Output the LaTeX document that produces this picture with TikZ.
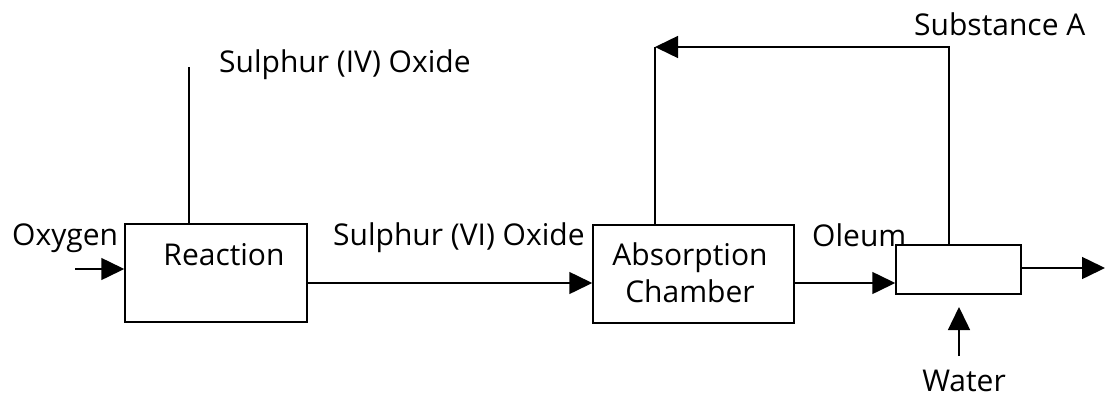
\documentclass[tikz,border=0pt]{standalone}
\usepackage{fontspec}
\setmainfont{Open Sans}
\usetikzlibrary{arrows.meta,positioning}

\tikzset{
  unitbox/.style={draw, line width=1.5pt, inner sep=0pt},
  flow/.style={line width=1.5pt, -{Triangle[length=23pt, width=22pt]}},
  pipe/.style={line width=1.5pt},
  lbl/.style={font=\fontsize{30}{37}\selectfont, inner sep=0pt}
}

\begin{document}
\begin{tikzpicture}[x=1pt, y=-1pt]
  \useasboundingbox (0,0) rectangle (1105,394);

  % process units
  \node[unitbox, minimum width=182pt, minimum height=98pt] (reactor) at (216,273) {};
  \node[unitbox, minimum width=201pt, minimum height=98pt] (absorber) at (693.5,274) {};
  \node[unitbox, minimum width=125pt, minimum height=49pt] (diluter) at (958.5,269.5) {};

  % labels
  \node[lbl, anchor=base] (treaction) at (224,265) {Reaction};
  \node[lbl, anchor=base] (tabsorb) at (690,265) {Absorption};
  \node[lbl, anchor=base] (tchamber) at (690,302) {Chamber};
  \node[lbl, anchor=base west] (toxygen) at (12,245) {Oxygen};
  \node[lbl, anchor=base west] (tsoii) at (219,72) {Sulphur (IV) Oxide};
  \node[lbl, anchor=base west] (tsoiii) at (333,245) {Sulphur (VI) Oxide};
  \node[lbl, anchor=base west] (toleum) at (812,246) {Oleum};
  \node[lbl, anchor=base west] (tsubst) at (914,35) {Substance A};
  \node[lbl, anchor=base] (twater) at (964,391) {Water};

  % free ends
  \coordinate (oxin) at (75,269);
  \coordinate (soout) at (189,67);
  \coordinate (loop) at (655,47);
  \coordinate (prodout) at (1105,268);
  \coordinate (waterin) at (959,356);
  \coordinate (waterend) at (959,307);

  % streams
  \draw[flow] (oxin) -- (oxin -| reactor.west);
  \draw[pipe] (reactor.north -| soout) -- (soout);
  \draw[flow] (reactor.east |- 0,283) -- (absorber.west |- 0,283);
  \draw[flow] (absorber.east |- 0,283) -- (diluter.west |- 0,283);
  \draw[pipe] (absorber.north -| loop) -- (loop);
  \draw[flow] (diluter.north -| 949,0) -- (949,47) -- (loop);
  \draw[flow] (diluter.east |- prodout) -- (prodout);
  \draw[flow] (waterin) -- (waterend);
\end{tikzpicture}
\end{document}
